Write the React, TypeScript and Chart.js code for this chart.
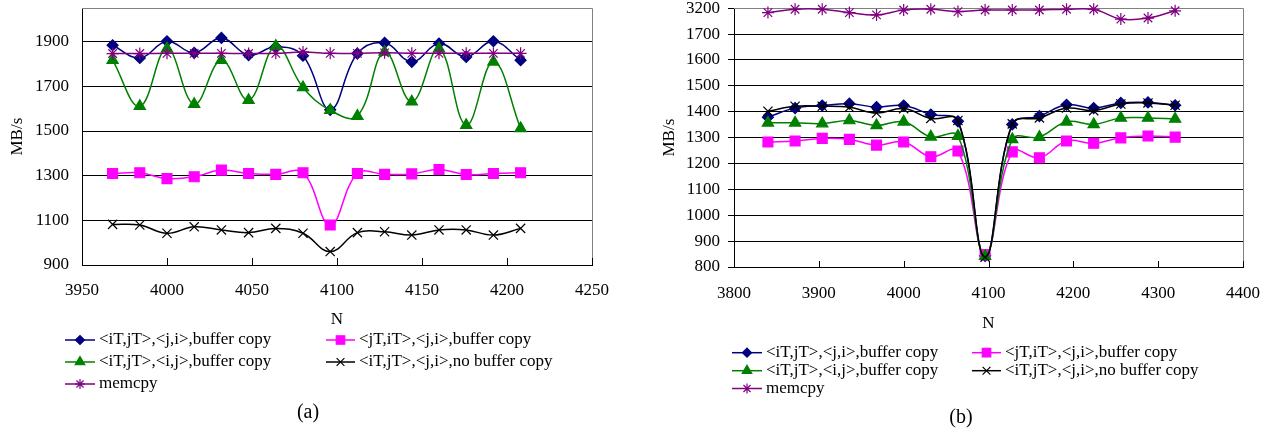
import React, { useEffect, useRef } from 'react';
import { Chart, registerables } from 'chart.js';
import { drawPoint } from 'chart.js/helpers';

Chart.register(...registerables);

const FONT = "'Liberation Serif', 'Times New Roman', Times, serif";

// ---- series (shared by both panels) ----
const SERIES_NAMES = [
  '<iT,jT>,<j,i>,buffer copy',
  '<jT,iT>,<j,i>,buffer copy',
  '<iT,jT>,<i,j>,buffer copy',
  '<iT,jT>,<j,i>,no buffer copy',
  'memcpy',
];
const SERIES_COLORS = ['#000080', '#FF00FF', '#008000', '#000000', '#800080'];
const SERIES_POINT_STYLES = ['rectRot', 'rect', 'triangle', 'crossRot', 'star'];
const SERIES_POINT_RADII = [5.5, 7, 6.5, 6.5, 6];
const SERIES_DRAW_ORDER = [4, 3, 2, 1, 0];
const SERIES_LEGEND_SLOT = [[0, 0], [1, 0], [0, 1], [1, 1], [0, 2]];

// ---- panel (a) ----
const A_N = [3968, 3984, 4000, 4016, 4032, 4048, 4064, 4080, 4096, 4112, 4128, 4144, 4160, 4176, 4192, 4208];
const A_IJ_JI_BUF = [1884, 1827, 1902, 1850, 1917, 1840, 1877, 1837, 1595, 1847, 1895, 1810, 1892, 1832, 1902, 1817];
const A_JI_JI_BUF = [1310, 1313, 1287, 1295, 1325, 1310, 1306, 1313, 1079, 1310, 1306, 1308, 1328, 1305, 1310, 1313];
const A_IJ_IJ_BUF = [1817, 1611, 1869, 1620, 1817, 1638, 1880, 1695, 1593, 1567, 1854, 1631, 1869, 1526, 1810, 1512];
const A_IJ_JI_NOBUF = [1082, 1079, 1042, 1071, 1057, 1045, 1064, 1042, 960, 1045, 1049, 1034, 1057, 1057, 1034, 1064];
const A_MEMCPY = [1847, 1847, 1848, 1848, 1848, 1847, 1848, 1854, 1848, 1848, 1850, 1848, 1848, 1848, 1848, 1848];
const A_X_TICKS = [3950, 4000, 4050, 4100, 4150, 4200, 4250];
const A_Y_TICKS = [900, 1100, 1300, 1500, 1700, 1900];

// ---- panel (b) ----
const B_N = [3840, 3872, 3904, 3936, 3968, 4000, 4032, 4064, 4096, 4128, 4160, 4192, 4224, 4256, 4288, 4320];
const B_IJ_JI_BUF = [1379, 1414, 1424, 1431, 1418, 1424, 1389, 1363, 843, 1351, 1383, 1427, 1414, 1434, 1436, 1425];
const B_JI_JI_BUF = [1283, 1287, 1297, 1293, 1271, 1283, 1226, 1248, 848, 1245, 1222, 1287, 1278, 1299, 1306, 1302];
const B_IJ_IJ_BUF = [1357, 1357, 1354, 1366, 1347, 1361, 1303, 1306, 842, 1293, 1302, 1361, 1351, 1376, 1376, 1372];
const B_IJ_JI_NOBUF = [1402, 1421, 1421, 1417, 1395, 1412, 1374, 1366, 838, 1353, 1376, 1414, 1404, 1430, 1434, 1425];
const B_MEMCPY = [3183, 3196, 3196, 3183, 3174, 3193, 3196, 3187, 3193, 3193, 3193, 3196, 3196, 3158, 3162, 3190];
const B_X_TICKS = [3800, 3900, 4000, 4100, 4200, 4300, 4400];
const B_Y_TICKS = [800, 900, 1000, 1100, 1200, 1300, 1400, 1500, 1600, 1700, 1800];
const B_Y_LABELS = ['800', '900', '1000', '1100', '1200', '1300', '1400', '1500', '1600', '1700', '3200'];
// broken axis: the top tick (1800 position) is labelled 3200
const B_MEMCPY_OFFSET = 1400;

const decorPlugin = {
  id: 'decor',
  beforeDatasetsDraw(chart: any, _a: any, opts: any) {
    const { ctx, chartArea: ca, scales } = chart;
    ctx.save();
    ctx.lineWidth = 1;
    ctx.strokeStyle = '#808080';
    ctx.beginPath();
    ctx.moveTo(ca.left, Math.round(ca.top) + 0.5);
    ctx.lineTo(Math.round(ca.right) + 0.5, Math.round(ca.top) + 0.5);
    ctx.lineTo(Math.round(ca.right) + 0.5, ca.bottom);
    ctx.stroke();
    const xs = scales.x;
    ctx.strokeStyle = '#000';
    ctx.beginPath();
    xs.ticks.forEach((t: any) => {
      const px = Math.round(xs.getPixelForValue(t.value)) + 0.5;
      ctx.moveTo(px, ca.bottom);
      ctx.lineTo(px, ca.bottom - opts.tickLen);
    });
    ctx.stroke();
    ctx.restore();
  },
  afterDraw(chart: any, _a: any, opts: any) {
    const { ctx } = chart;
    ctx.save();
    SERIES_NAMES.forEach((name, i) => {
      const [c, r] = SERIES_LEGEND_SLOT[i];
      const col = opts.cols[c];
      const y = opts.rows[r];
      const color = SERIES_COLORS[i];
      ctx.strokeStyle = color;
      ctx.fillStyle = color;
      ctx.lineWidth = 1.5;
      ctx.beginPath();
      ctx.moveTo(col.x1, y);
      ctx.lineTo(col.x2, y);
      ctx.stroke();
      ctx.lineWidth = 1.2;
      drawPoint(ctx, { pointStyle: SERIES_POINT_STYLES[i], radius: SERIES_POINT_RADII[i] - 1, rotation: 0, borderWidth: 1.2 } as any, (col.x1 + col.x2) / 2, y);
      ctx.fillStyle = '#000';
      ctx.font = `17px ${FONT}`;
      ctx.textAlign = 'left';
      ctx.textBaseline = 'middle';
      ctx.fillText(name, col.tx, y);
    });
    ctx.font = `20px ${FONT}`;
    ctx.textAlign = 'center';
    ctx.textBaseline = 'middle';
    ctx.fillStyle = '#000';
    ctx.fillText(opts.caption.text, opts.caption.x, opts.caption.y);
    ctx.restore();
  },
};

function makeDatasets(xs: number[], series: number[][], mapY: (i: number, v: number) => number) {
  return series.map((vals, i) => ({
    label: SERIES_NAMES[i],
    data: vals.map((v, k) => ({ x: xs[k], y: mapY(i, v) })),
    borderColor: SERIES_COLORS[i],
    backgroundColor: SERIES_COLORS[i],
    borderWidth: 1.5,
    tension: 0.4,
    pointStyle: SERIES_POINT_STYLES[i],
    pointRadius: SERIES_POINT_RADII[i],
    pointBackgroundColor: SERIES_COLORS[i],
    pointBorderColor: SERIES_COLORS[i],
    pointBorderWidth: 1.2,
    order: SERIES_DRAW_ORDER[i],
    clip: false as any,
  }));
}

const tickFont = { family: FONT, size: 17 };
const plain = (v: any) => String(v);

function resetPad(s: any) {
  s.paddingTop = 0; s.paddingBottom = 0; s.paddingLeft = 0; s.paddingRight = 0;
}

function configA(): any {
  return {
    type: 'line',
    data: { datasets: makeDatasets(A_N, [A_IJ_JI_BUF, A_JI_JI_BUF, A_IJ_IJ_BUF, A_IJ_JI_NOBUF, A_MEMCPY], (_i, v) => v) },
    plugins: [decorPlugin],
    options: {
      responsive: false, maintainAspectRatio: false, animation: false,
      layout: { padding: { left: 0, right: 38, top: 8, bottom: 102 } },
      plugins: {
        legend: { display: false }, tooltip: { enabled: false },
        decor: {
          tickLen: 7,
          cols: [{ x1: 65, x2: 95, tx: 99 }, { x1: 326, x2: 355, tx: 359 }],
          rows: [340, 362, 384],
          caption: { text: '(a)', x: 308, y: 413 },
        },
      },
      scales: {
        x: {
          type: 'linear', min: 3950, max: 4250,
          afterBuildTicks: (s: any) => { s.ticks = A_X_TICKS.map(v => ({ value: v })); },
          afterFit: (s: any) => { s.height = 65; resetPad(s); },
          grid: { display: false, drawTicks: false },
          border: { display: true, color: '#000', width: 1 },
          ticks: { font: tickFont, color: '#000', padding: 15.5, maxRotation: 0, autoSkip: false, callback: plain },
          title: { display: true, text: 'N', font: tickFont, color: '#000', padding: { top: 0, bottom: 0 } },
        },
        y: {
          type: 'linear', min: 900, max: 2050,
          afterBuildTicks: (s: any) => { s.ticks = A_Y_TICKS.map(v => ({ value: v })); },
          afterFit: (s: any) => { s.width = 82; resetPad(s); },
          grid: { color: '#000', lineWidth: 1, drawTicks: false },
          border: { display: true, color: '#000', width: 1 },
          ticks: { font: tickFont, color: '#000', padding: 13, callback: plain },
          title: { display: true, text: 'MB/s', font: tickFont, color: '#000', padding: { top: 7, bottom: 0 } },
        },
      },
    },
  };
}

function configB(): any {
  return {
    type: 'line',
    data: { datasets: makeDatasets(B_N, [B_IJ_JI_BUF, B_JI_JI_BUF, B_IJ_IJ_BUF, B_IJ_JI_NOBUF, B_MEMCPY], (i, v) => (i === 4 ? v - B_MEMCPY_OFFSET : v)) },
    plugins: [decorPlugin],
    options: {
      responsive: false, maintainAspectRatio: false, animation: false,
      layout: { padding: { left: 0, right: 23, top: 8, bottom: 98 } },
      plugins: {
        legend: { display: false }, tooltip: { enabled: false },
        decor: {
          tickLen: 6,
          cols: [{ x1: 102, x2: 132, tx: 136 }, { x1: 342, x2: 371, tx: 375 }],
          rows: [352.7, 370.7, 388.5],
          caption: { text: '(b)', x: 331, y: 418 },
        },
      },
      scales: {
        x: {
          type: 'linear', min: 3800, max: 4400,
          afterBuildTicks: (s: any) => { s.ticks = B_X_TICKS.map(v => ({ value: v })); },
          afterFit: (s: any) => { s.height = 67; resetPad(s); },
          grid: { display: false, drawTicks: false },
          border: { display: true, color: '#000', width: 1 },
          ticks: { font: tickFont, color: '#000', padding: 16, maxRotation: 0, autoSkip: false, callback: plain },
          title: { display: true, text: 'N', font: tickFont, color: '#000', padding: { top: 0, bottom: 0 } },
        },
        y: {
          type: 'linear', min: 800, max: 1800,
          afterBuildTicks: (s: any) => { s.ticks = B_Y_TICKS.map(v => ({ value: v })); },
          afterFit: (s: any) => { s.width = 104; resetPad(s); },
          grid: {
            color: (c: any) => (c.tick && c.tick.value === 1800 ? '#808080' : '#000'),
            tickColor: '#000', lineWidth: 1, drawTicks: true, tickLength: 6,
          },
          border: { display: true, color: '#000', width: 1 },
          ticks: {
            font: tickFont, color: '#000', padding: 8,
            callback: (v: any) => { const k = B_Y_TICKS.indexOf(Number(v)); return k >= 0 ? B_Y_LABELS[k] : ''; },
          },
          title: { display: true, text: 'MB/s', font: tickFont, color: '#000', padding: { top: 29, bottom: 0 } },
        },
      },
    },
  };
}

function ChartCanvas({ make, left, width }: { make: () => any; left: number; width: number }) {
  const ref = useRef<HTMLCanvasElement | null>(null);
  useEffect(() => {
    if (!ref.current) return;
    const chart = new Chart(ref.current, make());
    return () => chart.destroy();
  }, [make]);
  return (
    <canvas ref={ref} width={width} height={432}
      style={{ position: 'absolute', left, top: 0, width, height: 432 }} />
  );
}

export default function App() {
  return (
    <div style={{ position: 'absolute', left: 0, top: 0, width: 1266, height: 432, background: '#fff' }}>
      <ChartCanvas make={configA} left={0} width={630} />
      <ChartCanvas make={configB} left={630} width={636} />
    </div>
  );
}
